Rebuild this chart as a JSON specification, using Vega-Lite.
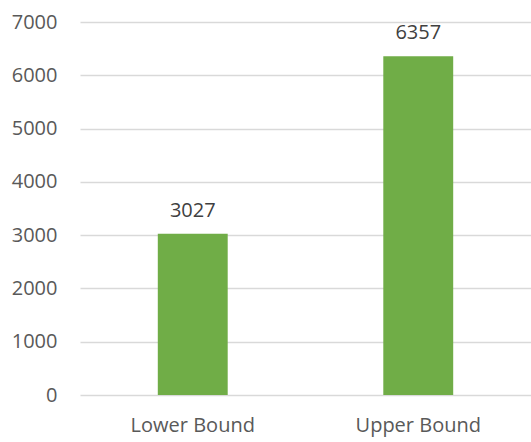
{
  "$schema": "https://vega.github.io/schema/vega-lite/v6.json",
  "autosize": "none",
  "width": 451,
  "height": 373,
  "padding": {"left": 80, "top": 22, "right": 0, "bottom": 47},
  "background": "white",
  "config": {
    "view": {"stroke": null},
    "font": "Open Sans"
  },
  "data": {
    "values": [
      {"category": "Lower Bound", "value": 3027},
      {"category": "Upper Bound", "value": 6357}
    ]
  },
  "encoding": {
    "x": {
      "field": "category",
      "type": "nominal",
      "sort": null,
      "scale": {"paddingInner": 0.69, "paddingOuter": 0.345},
      "axis": {
        "title": null,
        "labelAngle": 0,
        "domain": false,
        "ticks": false,
        "labelFont": "Open Sans",
        "labelFontSize": 20,
        "labelColor": "#595959",
        "labelPadding": 20
      }
    },
    "y": {
      "field": "value",
      "type": "quantitative",
      "scale": {"domain": [0, 7000], "nice": false},
      "axis": {
        "title": null,
        "values": [0, 1000, 2000, 3000, 4000, 5000, 6000, 7000],
        "format": "d",
        "domain": false,
        "ticks": false,
        "grid": true,
        "gridColor": "#d9d9d9",
        "gridWidth": 1.5,
        "labelFont": "Open Sans",
        "labelFontSize": 20,
        "labelColor": "#595959",
        "labelPadding": 23
      }
    }
  },
  "layer": [
    {"mark": {"type": "bar", "color": "#70ad47"}},
    {
      "mark": {
        "type": "text",
        "baseline": "alphabetic",
        "dy": -17,
        "font": "Open Sans",
        "fontSize": 20,
        "color": "#404040"
      },
      "encoding": {"text": {"field": "value", "type": "quantitative", "format": "d"}}
    }
  ]
}
